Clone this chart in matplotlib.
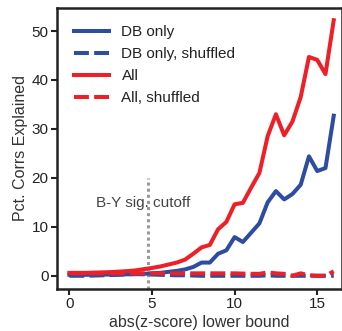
import numpy as np
import matplotlib
matplotlib.use("Agg")
import matplotlib.pyplot as plt

plt.rcParams['font.family'] = ['Liberation Sans', 'DejaVu Sans']

x = np.arange(0, 16.5, 0.5)
db_only = [0.2, 0.2, 0.2, 0.2, 0.25, 0.25, 0.3, 0.3, 0.35, 0.4, 0.5, 0.6,
           0.8, 1.0, 1.3, 1.8, 2.7, 2.7, 4.5, 5.2, 7.9, 6.9, 8.8, 10.7,
           15.0, 17.3, 15.6, 16.7, 18.6, 24.4, 21.4, 22.0, 32.7]
all_ = [0.6, 0.6, 0.6, 0.65, 0.7, 0.75, 0.85, 0.95, 1.1, 1.35, 1.6, 1.9,
        2.3, 2.7, 3.3, 4.5, 5.8, 6.3, 9.5, 11.0, 14.6, 14.9, 18.0, 21.0,
        28.5, 33.0, 28.7, 31.5, 36.5, 44.7, 44.1, 41.2, 52.2]
db_shuf = [0.0, 0.0, 0.0, 0.05, 0.1, 0.15, 0.2, 0.3, 0.35, 0.3, 0.25, 0.2,
           0.15, 0.1, 0.1, 0.05, 0.0, 0.0, 0.0, 0.0, 0.0, 0.0, 0.0, 0.0,
           0.1, 0.0, 0.0, 0.0, 0.0, 0.0, 0.0, 0.0, 0.0]
all_shuf = [0.5, 0.5, 0.5, 0.5, 0.5, 0.5, 0.5, 0.5, 0.5, 0.5, 0.5, 0.5,
            0.5, 0.5, 0.5, 0.5, 0.5, 0.5, 0.5, 0.5, 0.5, 0.45, 0.4, 0.4,
            0.7, 0.5, 0.4, 0.0, 0.5, 0.1, 0.0, 0.0, 0.9]
cutoff = 4.76

blue = '#2e4da0'
red = '#ee1f26'

fig = plt.figure(figsize=(3.42, 3.31), dpi=100)
ax = fig.add_axes([57/342, 1 - 289/331, 1 - 57/342, (289 - 8)/331])

lw = 2.9
dash = (0, (3.7, 1.3))
ax.plot(x, db_only, color=blue, lw=lw, label='DB only')
ax.plot(x, db_shuf, color=blue, lw=lw, ls=dash, label='DB only, shuffled')
ax.plot(x, all_, color=red, lw=lw, label='All')
ax.plot(x, all_shuf, color=red, lw=lw, ls=dash, label='All, shuffled')

ax.plot([cutoff, cutoff], [-2.7, 20], color='#999999', lw=2.2, ls=(0, (1, 1)), zorder=1)
ax.text(1.6, 14.8, 'B-Y sig. cutoff', fontsize=11, color='#444444', va='center', ha='left')

ax.set_xlim(-0.75, 16.5)
ax.set_ylim(-2.7, 54.7)
ax.set_xticks([0, 5, 10, 15])
ax.set_yticks([0, 10, 20, 30, 40, 50])
ax.tick_params(labelsize=11, length=4, width=1.5, direction='out', pad=2, colors='#222222')
for s in ax.spines.values():
    s.set_linewidth(1.8)
    s.set_color('#222222')
ax.set_xlabel('abs(z-score) lower bound', fontsize=11.5, color='#333333', labelpad=3)
ax.set_ylabel('Pct. Corrs Explained', fontsize=11.5, color='#333333', labelpad=3)

leg = ax.legend(loc='upper left', frameon=False, fontsize=11, handlelength=2.3,
                handletextpad=0.8, labelspacing=0.52, borderaxespad=0.72)
for t in leg.get_texts():
    t.set_color('#222222')

fig.savefig('out.png', dpi=100)
